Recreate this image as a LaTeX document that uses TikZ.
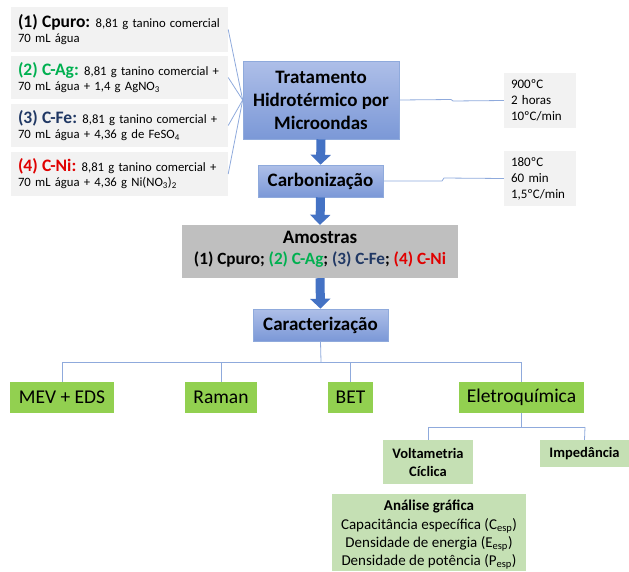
\documentclass[tikz,border=0pt]{standalone}
\usepackage{fontspec}
\setmainfont{Carlito}
\usetikzlibrary{arrows.meta}
\definecolor{lgray}{HTML}{F2F2F2}
\definecolor{boxgray}{HTML}{BFBFBF}
\definecolor{bluetop}{HTML}{AEBFE8}
\definecolor{bluebot}{HTML}{7B98D7}
\definecolor{blueedge}{HTML}{8FAADC}
\definecolor{linkblue}{HTML}{8FAADC}
\definecolor{arrowblue}{HTML}{4472C4}
\definecolor{greenA}{HTML}{92D050}
\definecolor{greenB}{HTML}{C5E0B4}
\definecolor{cgreen}{HTML}{00B050}
\definecolor{cblue}{HTML}{203864}
\definecolor{cred}{HTML}{E00000}
\newcommand{\lbl}[1]{{\fontsize{17.5}{15}\selectfont\bfseries #1}\hspace{-1pt}}
\tikzset{
  lbox/.style={fill=lgray, minimum width=217pt, minimum height=44pt, text width=203pt,
    inner xsep=7pt, inner ysep=0pt, align=left, font=\fontsize{12.7}{15}\selectfont},
  rbox/.style={fill=lgray, minimum width=72pt, minimum height=55pt, text width=58pt,
    inner xsep=7pt, inner ysep=0pt, align=left, font=\fontsize{13}{16}\selectfont},
  bluebox/.style={top color=bluetop, bottom color=bluebot, draw=blueedge, line width=0.6pt,
    inner sep=0pt, align=center, font=\fontsize{19}{23}\selectfont\bfseries},
  greenbox/.style={fill=greenA, inner sep=0pt, minimum height=31pt, align=center,
    font=\fontsize{19.5}{22}\selectfont},
  lgbox/.style={fill=greenB, inner sep=0pt, align=center,
    font=\fontsize{14.5}{18}\selectfont\bfseries},
  link/.style={draw=linkblue, line width=0.8pt},
  barrow/.style={draw=arrowblue, line width=9pt, -{Triangle[width=20pt,length=10pt]}}
}
\begin{document}
\begin{tikzpicture}[x=1pt,y=-1pt]
\useasboundingbox (0,0) rectangle (629,571);

% left input boxes
\node[lbox, minimum height=45pt] (b1) at (119.5,29.5)
  {\lbl{(1) Cpuro:} 8,81 g tanino comercial\\70 mL água};
\node[lbox, minimum height=43pt] (b2) at (119.5,77.5)
  {\lbl{\color{cgreen}(2) C-Ag:} 8,81 g tanino comercial +\\70 mL água + 1,4 g AgNO\textsubscript{3}};
\node[lbox, minimum height=43pt] (b3) at (119.5,125.5)
  {\lbl{\color{cblue}(3) C-Fe:} 8,81 g tanino comercial +\\70 mL água + 4,36 g de FeSO\textsubscript{4}};
\node[lbox, minimum height=44pt] (b4) at (119.5,174)
  {\lbl{\color{cred}(4) C-Ni:} 8,81 g tanino comercial +\\70 mL água + 4,36 g Ni(NO\textsubscript{3})\textsubscript{2}};

% main process boxes
\node[bluebox, minimum width=156pt, minimum height=78pt] (main) at (321,100)
  {Tratamento\\Hidrotérmico por\\Microondas};
\node[bluebox, minimum width=125pt, minimum height=32pt] (carb) at (320.5,181)
  {Carbonização};
\node[fill=boxgray, minimum width=276pt, minimum height=53pt, inner sep=0pt] (amo) at (320,251.5) {};
\node[inner sep=0pt, align=center, font=\fontsize{19}{21}\selectfont\bfseries] (amotext) at (320,249)
  {Amostras\\
   {\fontsize{17.2}{21}\selectfont (1) Cpuro; {\color{cgreen}(2) C-Ag}; {\color{cblue}(3) C-Fe}; {\color{cred}(4) C-Ni}}};
\node[bluebox, minimum width=135pt, minimum height=32pt] (car) at (320.5,325)
  {Caracterização};

% right parameter boxes
\node[rbox] (r1) at (540,100.5) {900ºC\\2 horas\\10ºC/min};
\node[rbox] (r2) at (540,178.5) {180ºC\\60 min\\1,5ºC/min};

% connectors from inputs
\foreach \b in {b1,b2,b3,b4} \draw[link] (\b.east) -- (main.west);
\draw[link] (main.east) -- (451,99.5) -- (453,101) -- (r1.west);
\draw[link] (carb.east) -- (442,181) -- (444,178) -- (r2.west);

% block arrows
\draw[barrow] (main.south) -- (carb.north);
\draw[barrow] (carb.south) -- (amo.north);
\draw[barrow] (amo.south) -- (car.north);

% characterization techniques
\node[greenbox, minimum width=104pt] (mev) at (62,397.5) {MEV + EDS};
\node[greenbox, minimum width=72pt] (ram) at (221,397.5) {Raman};
\node[greenbox, minimum width=45pt] (bet) at (350.5,397.5) {BET};
\node[greenbox, minimum width=125pt] (ele) at (521.5,397.5) {Eletroquímica};

\coordinate (t0) at (321,362);
\draw[link] (car.south) -- (t0);
\draw[link] (62,362) -- (521,362);
\draw[link] (62,362) -- (mev.north);
\draw[link] (221,362) -- (ram.north);
\draw[link] (350.5,362) -- (bet.north);
\draw[link] (521,362) -- (ele.north -| 521,0);

\node[lgbox, minimum width=90pt, minimum height=44pt] (vol) at (428,462) {Voltametria\\Cíclica};
\node[lgbox, minimum width=89pt, minimum height=27pt] (imp) at (584.5,453.5) {Impedância};
\coordinate (t1) at (521,427);
\draw[link] (ele.south -| t1) -- (t1);
\draw[link] (428,427) -- (585,427);
\draw[link] (428,427) -- (vol.north);
\draw[link] (585,427) -- (imp.north);

\node[fill=greenB, minimum width=194pt, minimum height=77pt, inner sep=0pt] (ana) at (429,532.5) {};
\node[inner sep=0pt, align=center, font=\fontsize{15}{18}\selectfont] (anatext) at (429,534.5)
  {\textbf{Análise gráfica}\\[1pt]
   Capacitância específica (C\textsubscript{esp})\\
   Densidade de energia (E\textsubscript{esp})\\
   Densidade de potência (P\textsubscript{esp})};
\end{tikzpicture}
\end{document}
